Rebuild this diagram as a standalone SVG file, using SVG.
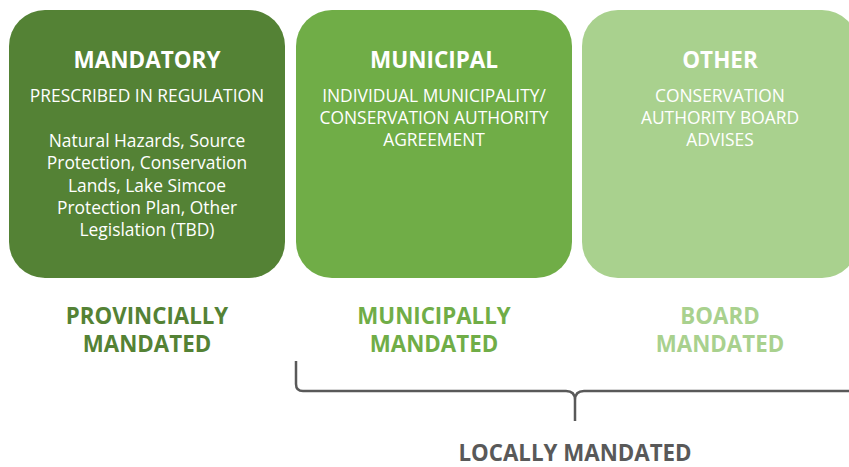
<svg xmlns="http://www.w3.org/2000/svg" width="849" height="467" viewBox="0 0 849 467">
<style>
text{font-family:"Open Sans","Noto Sans","Liberation Sans",sans-serif;text-anchor:middle}
.t{font-size:22.5px;font-weight:bold;fill:#fff}
.s{font-size:17.4px;fill:#fff}
.b{font-size:22.3px;font-weight:bold}
.box{stroke:none}
</style>
<rect width="849" height="467" fill="#fff"/>
<g id="mandatory">
<rect class="box" x="9" y="10" width="276" height="268" rx="36" fill="#548235"/>
<text class="t" x="147" y="68">MANDATORY</text>
<text class="s" x="147" y="102">PRESCRIBED IN REGULATION</text>
<text class="s" x="147" y="147">Natural Hazards, Source</text>
<text class="s" x="147" y="169">Protection, Conservation</text>
<text class="s" x="147" y="192">Lands, Lake Simcoe</text>
<text class="s" x="147" y="214">Protection Plan, Other</text>
<text class="s" x="147" y="236">Legislation (TBD)</text>
</g>
<g id="municipal">
<rect class="box" x="296" y="10" width="276" height="268" rx="36" fill="#70AD47"/>
<text class="t" x="434" y="68">MUNICIPAL</text>
<text class="s" x="434" y="102">INDIVIDUAL MUNICIPALITY/</text>
<text class="s" x="434" y="124">CONSERVATION AUTHORITY</text>
<text class="s" x="434" y="146">AGREEMENT</text>
</g>
<g id="other">
<rect class="box" x="582" y="10" width="276" height="268" rx="36" fill="#A9D18E"/>
<text class="t" x="720" y="68">OTHER</text>
<text class="s" x="720" y="102">CONSERVATION</text>
<text class="s" x="720" y="124">AUTHORITY BOARD</text>
<text class="s" x="720" y="146">ADVISES</text>
</g>
<g id="provincially">
<text class="b" x="147" y="324" fill="#548235">PROVINCIALLY</text>
<text class="b" x="147" y="352" fill="#548235">MANDATED</text>
</g>
<g id="municipally">
<text class="b" x="434" y="324" fill="#70AD47">MUNICIPALLY</text>
<text class="b" x="434" y="352" fill="#70AD47">MANDATED</text>
</g>
<g id="board">
<text class="b" x="720" y="324" fill="#A9D18E">BOARD</text>
<text class="b" x="720" y="352" fill="#A9D18E">MANDATED</text>
</g>
<g id="connectors">
<path d="M296,361 L296,384 Q296,391 303,391 L566,391 Q575,391 575,400 L575,421 M575,400 Q575,391 584,391 L849,391" fill="none" stroke="#595959" stroke-width="2.5"/>
</g>
<g id="locally">
<text class="b" x="575" y="461" fill="#595959">LOCALLY MANDATED</text>
</g>
</svg>
